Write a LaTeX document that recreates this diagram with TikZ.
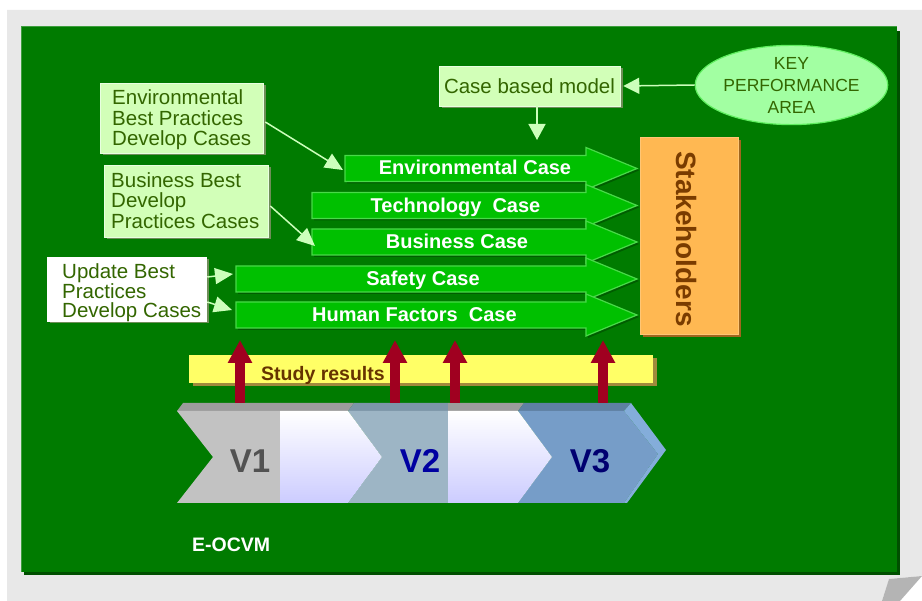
\documentclass[tikz,border=0pt]{standalone}
\usepackage{fontspec}
\setmainfont{Liberation Sans}
\usetikzlibrary{arrows.meta,shapes.geometric,shadows}
\definecolor{pagegrey}{HTML}{E8E8E8}
\definecolor{foldgrey}{HTML}{B4B4B4}
\definecolor{panelgreen}{HTML}{007B00}
\definecolor{panelshadow}{HTML}{004F00}
\definecolor{panelborder}{HTML}{3E9E3E}
\definecolor{boxfill}{HTML}{D2FFB8}
\definecolor{boxedge}{HTML}{E8FFE0}
\definecolor{boxshadow}{HTML}{6E8E58}
\definecolor{boxtext}{HTML}{336600}
\definecolor{connc}{HTML}{CCFFBB}
\definecolor{kpafill}{HTML}{A2FFA2}
\definecolor{kpaedge}{HTML}{60EE60}
\definecolor{casefill}{HTML}{00C000}
\definecolor{caseedge}{HTML}{48DA48}
\definecolor{caseshadow}{HTML}{005C00}
\definecolor{stakefill}{HTML}{FFB852}
\definecolor{stakeshadow}{HTML}{A0661E}
\definecolor{staketext}{HTML}{7A3C00}
\definecolor{yellowbar}{HTML}{FFFF66}
\definecolor{yellowshadow}{HTML}{A08A3C}
\definecolor{studytext}{HTML}{663300}
\definecolor{redc}{HTML}{A00020}
\definecolor{vonegrey}{HTML}{C2C2C2}
\definecolor{vonetop}{HTML}{9C9C9C}
\definecolor{vtwo}{HTML}{9DB5C5}
\definecolor{vtwotop}{HTML}{7C96A8}
\definecolor{vthree}{HTML}{769DC8}
\definecolor{vthreetop}{HTML}{5E80A2}
\definecolor{vthreeside}{HTML}{84ADDA}
\definecolor{lavender}{HTML}{CCCCFF}
\tikzset{
  lightbox/.style={rectangle, fill=boxfill, draw=boxedge, line width=0.6pt, inner sep=0pt,
    drop shadow={shadow xshift=2.5pt, shadow yshift=-2.5pt, fill=boxshadow, opacity=1}},
  boxlabel/.style={anchor=west, inner sep=0pt, text=boxtext, align=left,
    font=\fontsize{20.5}{20.5}\selectfont},
  conn/.style={draw=connc, line width=1.5pt, -{Triangle[length=18pt,width=16pt]}},
  casebody/.style={rectangle, inner sep=0pt, minimum height=26pt},
  casetext/.style={text=white, anchor=base, font=\fontsize{20}{20}\selectfont\bfseries},
  redup/.style={draw=redc, line width=10pt, -{Triangle[length=23pt,width=23pt]}},
  vlabel/.style={font=\fontsize{33}{33}\selectfont\bfseries},
}
\newcommand\caseshape[2]{%
  \fill[caseshadow] (#1+2,#2-11) -- (588,#2-11) -- (588,#2-19) -- (639,#2+2) -- (588,#2+23) -- (588,#2+15) -- (#1+2,#2+15) -- cycle;
  \draw[caseedge, fill=casefill, line width=1.2pt] (#1,#2-13) -- (586,#2-13) -- (586,#2-21) -- (637,#2) -- (586,#2+21) -- (586,#2+13) -- (#1,#2+13) -- cycle;
}
\begin{document}
\begin{tikzpicture}[x=1pt,y=-1pt]
\useasboundingbox (0,0) rectangle (922,601);
\fill[white] (0,0) rectangle (922,601);
% page and fold
\fill[pagegrey] (7,10) -- (922,10) -- (922,576) -- (889,579) -- (882,601) -- (7,601) -- cycle;
\fill[foldgrey] (889,579) -- (922,576) -- (900,601) -- (882,601) -- cycle;
% panel
\fill[panelshadow] (24,31) rectangle (900,575);
\fill[panelgreen] (21,27) rectangle (897,572);
\draw[panelborder, line width=1pt] (21,572) -- (21,27) -- (897,27);

% case based model and KPA
\node[lightbox, minimum width=181pt, minimum height=40pt, text=boxtext,
  font=\fontsize{20.5}{21}\selectfont] (cbm) at (529.5,86) {Case based model};
\node[ellipse, fill=kpafill, draw=kpaedge, line width=1.2pt, minimum width=191pt,
  minimum height=74pt, inner sep=0pt, align=center, text=boxtext,
  font=\fontsize{17.5}{22}\selectfont] (kpa) at (791.5,85) {KEY\\PERFORMANCE\\AREA};
\draw[conn, -{Triangle[length=16pt,width=16pt]}] (kpa.west) -- ([xshift=3pt]cbm.east);
\coordinate (cbmtip) at (537,140);
\draw[conn, -{Triangle[length=16pt,width=17pt]}] ([xshift=7.5pt]cbm.south) -- (cbmtip);

% case arrows
\caseshape{345}{168.5}
\node[casebody, minimum width=241pt, anchor=west] (envcase) at (345,168.5) {};
\node[casetext] (envtxt) at (475,175) {Environmental Case};
\caseshape{312}{205.5}
\node[casebody, minimum width=274pt, anchor=west] (techcase) at (312,205.5) {};
\node[casetext] (techtxt) at (455.5,212.5) {Technology\ \ Case};
\caseshape{312}{242}
\node[casebody, minimum width=274pt, anchor=west] (buscase) at (312,242) {};
\node[casetext] (bustxt) at (457,249) {Business Case};
\caseshape{236}{279}
\node[casebody, minimum width=350pt, anchor=west] (safecase) at (236,279) {};
\node[casetext] (safetxt) at (423,286) {Safety Case};
\caseshape{236}{315}
\node[casebody, minimum width=350pt, anchor=west] (humcase) at (236,315) {};
\node[casetext] (humtxt) at (414.5,322) {Human Factors\ \ Case};

% stakeholders
\node[rectangle, fill=stakefill, draw=stakefill!80!white, minimum width=98pt, minimum height=197pt,
  drop shadow={shadow xshift=3pt, shadow yshift=-3pt, fill=stakeshadow, opacity=1}] (stake) at (689,235.5) {};
\node[rotate=-90, text=staketext, font=\fontsize{28}{28}\selectfont\bfseries] (stakelbl) at (687,239) {Stakeholders};

% left boxes
\node[lightbox, minimum width=163pt, minimum height=70pt] (envbp) at (181.5,118) {};
\node[boxlabel] (envbptxt) at (112,120) {Environmental\\Best Practices\\Develop Cases};
\node[lightbox, minimum width=164pt, minimum height=72pt] (busbp) at (186,201) {};
\node[boxlabel] (busbptxt) at (111,200.5) {Business Best\\Develop\\Practices Cases};
\node[lightbox, fill=white, draw=white, minimum width=159pt, minimum height=64pt] (upd) at (126.5,289) {};
\node[boxlabel, font=\fontsize{20.5}{19}\selectfont] (updtxt) at (62,292.5) {Update Best\\Practices\\Develop Cases};
\draw[conn] ([xshift=2pt,yshift=-4pt]envbp.east) -- ([xshift=-2pt,yshift=-1.5pt]envcase.west);
\draw[conn] ([xshift=2pt,yshift=-5pt]busbp.east) -- ([xshift=3pt,yshift=-4pt]buscase.west);
\draw[conn] ([xshift=1pt,yshift=12pt]upd.east) -- ([xshift=-3pt,yshift=5pt]safecase.west);
\draw[conn] ([xshift=1pt,yshift=-13pt]upd.east) -- ([xshift=-4pt,yshift=5pt]humcase.west);

% study results
\node[rectangle, fill=yellowbar, minimum width=464pt, minimum height=28pt, inner sep=0pt,
  drop shadow={shadow xshift=3.5pt, shadow yshift=-3.5pt, fill=yellowshadow, opacity=1}] (study) at (421,369) {};
\node[text=studytext, anchor=base, font=\fontsize{19.5}{20}\selectfont\bfseries] (studytxt) at (323,381) {Study results};

% chevron banner
\fill[vonetop] (177,411) -- (183,403) -- (280,403) -- (280,411) -- cycle;
\fill[vonetop] (280,411) -- (280,403) -- (354,403) -- (348,411) -- cycle;
\fill[vtwotop] (348,411) -- (354,403) -- (448,403) -- (448,411) -- cycle;
\fill[vonetop] (448,411) -- (448,403) -- (524,403) -- (518,411) -- cycle;
\fill[vthreetop] (518,411) -- (524,403) -- (631,403) -- (624,411) -- cycle;
\fill[vonegrey] (177,411) -- (280,411) -- (280,503) -- (177,503) -- (213,457) -- cycle;
\fill[vtwo] (348,411) -- (448,411) -- (448,503) -- (348,503) -- (382,457) -- cycle;
\fill[vthree] (518,411) -- (624,411) -- (658,454) -- (624,503) -- (518,503) -- (552,457) -- cycle;
\fill[vthreeside] (624,411) -- (631,403) -- (666,450) -- (627,503) -- (624,503) -- (658,454) -- cycle;
\shade[top color=white, bottom color=lavender] (280,411) -- (348,411) -- (382,457) -- (348,503) -- (280,503) -- cycle;
\shade[top color=white, bottom color=lavender] (448,411) -- (518,411) -- (552,457) -- (518,503) -- (448,503) -- cycle;
\node[vlabel, text=black!68] (vone) at (250,461) {V1};
\node[vlabel, text=blue!63!black] (vtwolbl) at (420,461) {V2};
\node[vlabel, text=blue!44!black] (vthreelbl) at (590,461) {V3};

% red arrows
\coordinate (ra) at (240,403); \coordinate (rat) at (240,340);
\coordinate (rb) at (395,403); \coordinate (rbt) at (395,340);
\coordinate (rc) at (455,403); \coordinate (rct) at (455,340);
\coordinate (rd) at (603,403); \coordinate (rdt) at (603,340);
\draw[redup] (ra) -- (rat);
\draw[redup] (rb) -- (rbt);
\draw[redup] (rc) -- (rct);
\draw[redup] (rd) -- (rdt);

% label
\node[anchor=base west, text=white, inner sep=0pt, font=\fontsize{19.5}{20}\selectfont\bfseries] (eocvm) at (192,552) {E-OCVM};
\end{tikzpicture}
\end{document}
